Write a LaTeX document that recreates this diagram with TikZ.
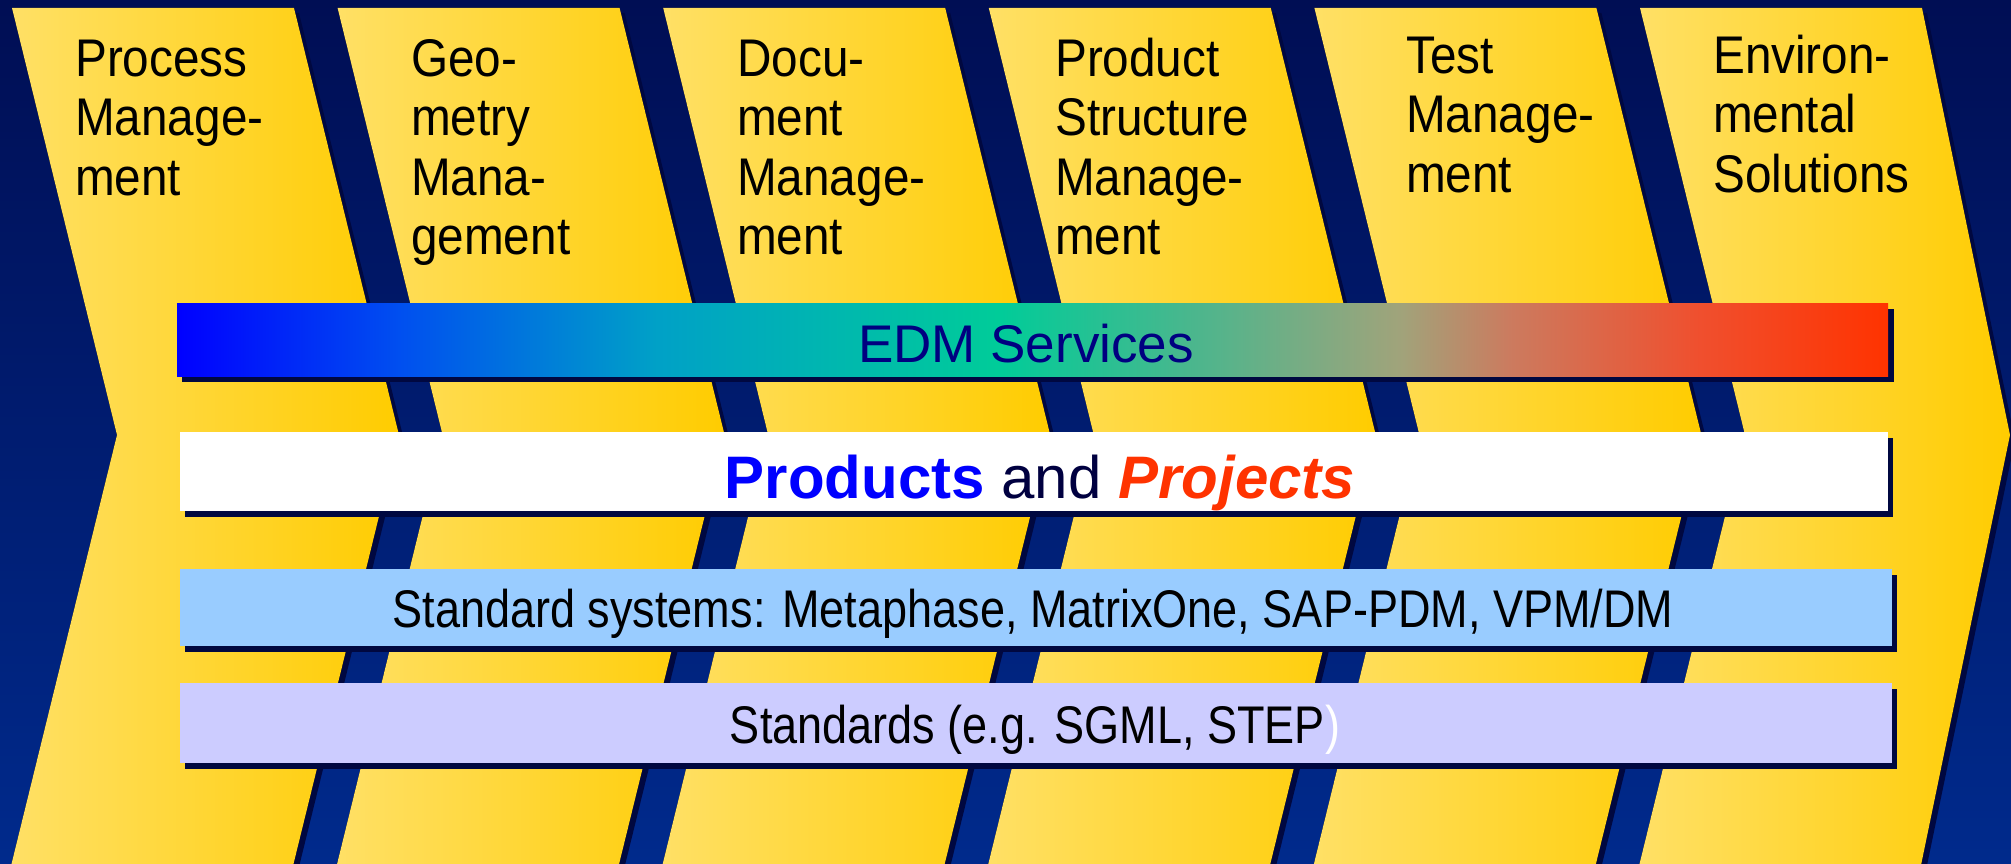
\documentclass[tikz,border=0pt]{standalone}
\usepackage{fontspec}
\setmainfont{Liberation Sans}
\newfontfamily\hdrfont[FakeStretch=0.9]{Liberation Sans}
\newfontfamily\barfont[FakeStretch=0.85]{Liberation Sans}

\definecolor{bgtop}{RGB}{0,14,84}
\definecolor{bgbot}{RGB}{0,42,140}
\definecolor{shadowc}{RGB}{0,8,64}
\definecolor{yelL}{RGB}{255,224,102}
\definecolor{yelR}{RGB}{255,204,0}
\definecolor{stdblue}{RGB}{153,204,255}
\definecolor{stdlav}{RGB}{204,204,255}
\definecolor{edmtext}{RGB}{0,0,128}
\definecolor{prodblue}{RGB}{0,0,255}
\definecolor{projred}{RGB}{255,51,0}
\definecolor{andnavy}{RGB}{0,0,64}

\pgfdeclarehorizontalshading{edmshade}{100bp}{rgb(0bp)=(0,0,1); rgb(25bp)=(0,0,1); rgb(31.5bp)=(0,0.31,0.94); rgb(39bp)=(0,0.63,0.78); rgb(49bp)=(0,0.8,0.6); rgb(55bp)=(0.31,0.71,0.55); rgb(60.75bp)=(0.63,0.64,0.48); rgb(64bp)=(0.8,0.48,0.37); rgb(69.5bp)=(0.94,0.31,0.18); rgb(75bp)=(1,0.2,0); rgb(100bp)=(1,0.2,0)}

\tikzset{
  hdr/.style={anchor=base west, inner sep=0pt, text=black, font=\hdrfont\fontsize{53}{59}\selectfont},
  bartext/.style={anchor=base, inner sep=0pt, text=black, font=\barfont\fontsize{53}{60}\selectfont},
  shadowfill/.style={fill=shadowc},
  chevfill/.style={left color=yelL, right color=yelR}
}

\begin{document}
\begin{tikzpicture}[x=1pt,y=-1pt]
\useasboundingbox (0,0) rectangle (2011,864);
\fill[top color=bgtop, bottom color=bgbot] (0,0) rectangle (2011,864);

% chevrons
\foreach \L/\R/\dr in {12/294/105, 337.6/619.6/105, 663.2/945.2/105, 988.8/1270.8/105, 1314.4/1596.4/105, 1640/1922/88} {
  \fill[shadowfill, shift={(5,5)}] (\L,8) -- (\R,8) -- (\R+\dr,435) -- (\R-2,870) -- (\L-2,870) -- (\L+105,435) -- cycle;
  \fill[chevfill] (\L,8) -- (\R,8) -- (\R+\dr,435) -- (\R-2,870) -- (\L-2,870) -- (\L+105,435) -- cycle;
}

% headers
\node[hdr] (p1) at (75,77) {Process};
\node[hdr] (p2) at (75,136) {Manage-};
\node[hdr] (p3) at (75,195) {ment};

\node[hdr] (g1) at (411,77) {Geo-};
\node[hdr] (g2) at (411,136) {metry};
\node[hdr] (g3) at (411,195) {Mana-};
\node[hdr] (g4) at (411,254) {gement};

\node[hdr] (d1) at (737,77) {Docu-};
\node[hdr] (d2) at (737,136) {ment};
\node[hdr] (d3) at (737,195) {Manage-};
\node[hdr] (d4) at (737,254) {ment};

\node[hdr] (s1) at (1055,77) {Product};
\node[hdr] (s2) at (1055,136) {Structure};
\node[hdr] (s3) at (1055,195) {Manage-};
\node[hdr] (s4) at (1055,254) {ment};

\node[hdr] (t1) at (1406,74) {Test};
\node[hdr] (t2) at (1406,133) {Manage-};
\node[hdr] (t3) at (1406,192) {ment};

\node[hdr] (e1) at (1713,74) {Environ-};
\node[hdr] (e2) at (1713,133) {mental};
\node[hdr] (e3) at (1713,192) {Solutions};

% bars
\fill[shadowfill] (182,309) rectangle (1894,382);
\shade[shading=edmshade] (177,303) rectangle (1888,376);
\fill[shadowfill] (185,438) rectangle (1893,517);
\fill[white] (180,432) rectangle (1888,511);
\fill[shadowfill] (185,575) rectangle (1897,652);
\fill[stdblue] (180,569) rectangle (1892,646);
\fill[shadowfill] (185,689) rectangle (1897,769);
\fill[stdlav] (180,683) rectangle (1892,763);

\node[anchor=base, inner sep=0pt, text=edmtext, font=\fontsize{53}{60}\selectfont] (edm) at (1026,362) {EDM Services};
\node[anchor=base, inner sep=0pt, font=\fontsize{60}{70}\selectfont] (pp) at (1040,498) {\textbf{\color{prodblue}Products} {\color{andnavy}and} \textbf{\textit{\color{projred}Projects}}};
\node[bartext] (std) at (1033,627) {Standard systems: Metaphase, MatrixOne, SAP-PDM, VPM/DM};
\node[bartext] (stds) at (1035,743) {Standards (e.g. SGML, STEP{\color{white})}};
\end{tikzpicture}
\end{document}
